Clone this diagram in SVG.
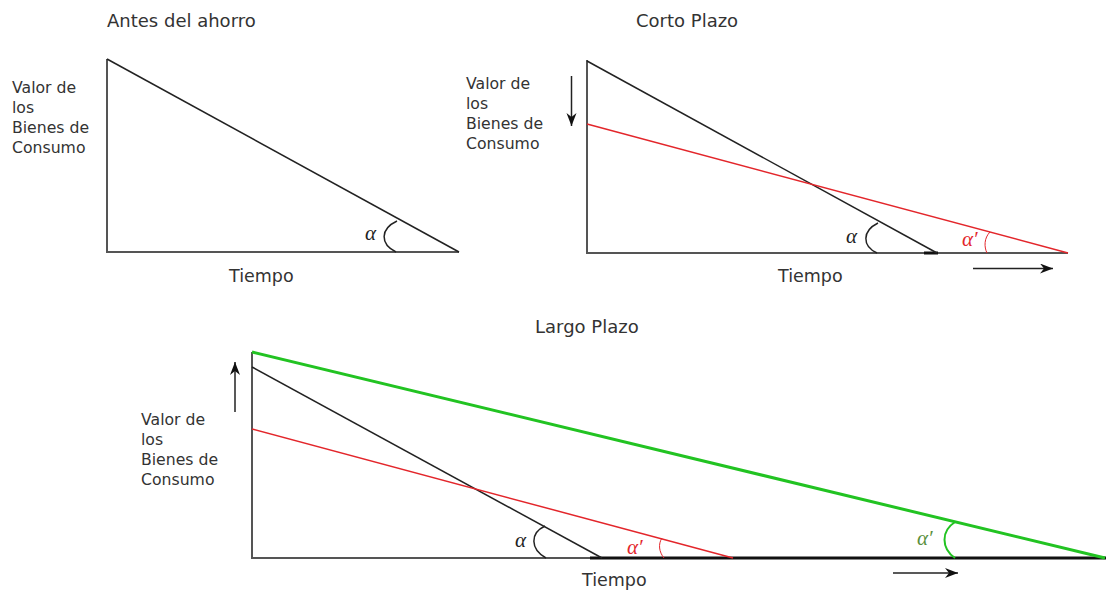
<svg xmlns="http://www.w3.org/2000/svg" width="1107" height="594" viewBox="0 0 1107 594">
<style>
.t{font-family:"DejaVu Sans",Verdana,sans-serif;fill:#333}
.title{font-size:18px}
.lab{font-size:15.7px}
.tm{font-size:17.5px}
.g{font-family:"Liberation Serif","DejaVu Serif",serif;font-style:italic;font-size:21px}
.ax{stroke:#555;stroke-width:2;fill:none}
.bk{stroke:#222;stroke-width:1.5;fill:none}
.rd{stroke:#e3262b;stroke-width:1.5;fill:none}
.gr{stroke:#22c322;stroke-width:3;fill:none}
.arr{stroke:#222;stroke-width:1.5;fill:none}
</style>
<defs>
<marker id="ah" markerUnits="userSpaceOnUse" markerWidth="14" markerHeight="12" refX="13" refY="5" orient="auto">
<path d="M0,0 L13,5 L0,10 L4,5 z" fill="#111"/>
</marker>
</defs>

<g id="panel-antes">
<text class="t title" x="107" y="27">Antes del ahorro</text>
<text class="t lab" x="12" y="93">Valor de</text>
<text class="t lab" x="12" y="113">los</text>
<text class="t lab" x="12" y="133">Bienes de</text>
<text class="t lab" x="12" y="153">Consumo</text>
<path class="ax" d="M107,59 V252 H459"/>
<path class="bk" d="M107,59 L459,252"/>
<path class="bk" d="M397,221 C380,229 380,244 396,252"/>
<text class="g" x="365" y="240" fill="#222">α</text>
<text class="t tm" x="229" y="282">Tiempo</text>
</g>

<g id="panel-corto">
<text class="t title" x="636" y="27">Corto Plazo</text>
<text class="t lab" x="466" y="89">Valor de</text>
<text class="t lab" x="466" y="109">los</text>
<text class="t lab" x="466" y="129">Bienes de</text>
<text class="t lab" x="466" y="149">Consumo</text>
<path class="ax" d="M587,60 V253 H1068"/>
<path d="M924,253 H938" stroke="#111" stroke-width="3"/>
<path class="bk" d="M587,61 L937,253"/>
<path class="rd" d="M587,124 L1068,253"/>
<path class="bk" d="M878,223 C862,231 862,246 877,253"/>
<path d="M990,232 C984,238 984,247 987,253" stroke="#e3262b" stroke-width="1" fill="none"/>
<text class="g" x="846" y="243" fill="#222">α</text>
<text class="g" x="962" y="246" fill="#e3262b">α′</text>
<text class="t tm" x="778" y="282">Tiempo</text>
</g>

<g id="panel-largo">
<text class="t title" x="535" y="333">Largo Plazo</text>
<text class="t lab" x="141" y="425">Valor de</text>
<text class="t lab" x="141" y="445">los</text>
<text class="t lab" x="141" y="465">Bienes de</text>
<text class="t lab" x="141" y="485">Consumo</text>
<path class="ax" d="M252,352 V558 H590"/>
<path d="M590,558 H1106" stroke="#111" stroke-width="3"/>
<path class="gr" d="M252,352 L1105,558"/>
<path class="bk" d="M252,367 L602,558"/>
<path class="rd" d="M252,429 L733,558"/>
<path class="bk" d="M545,526 C530,533 530,549 546,558"/>
<path d="M662,538 C658,544 659,552 664,558" stroke="#e3262b" stroke-width="1" fill="none"/>
<path d="M955,522 C941,531 941,548 955,558" stroke="#22c322" stroke-width="2" fill="none"/>
<text class="g" x="515" y="547" fill="#222">α</text>
<text class="g" x="627" y="554" fill="#e3262b">α′</text>
<text class="g" x="917" y="545" fill="#5a8f3c">α′</text>
<text class="t tm" x="582" y="586">Tiempo</text>
</g>

<g id="connectors">
<path class="arr" d="M571.5,76 V126" marker-end="url(#ah)"/>
<path class="arr" d="M973,268.5 H1053" marker-end="url(#ah)"/>
<path class="arr" d="M235,412 V362" marker-end="url(#ah)"/>
<path class="arr" d="M893,573 H958" marker-end="url(#ah)"/>
</g>
</svg>
